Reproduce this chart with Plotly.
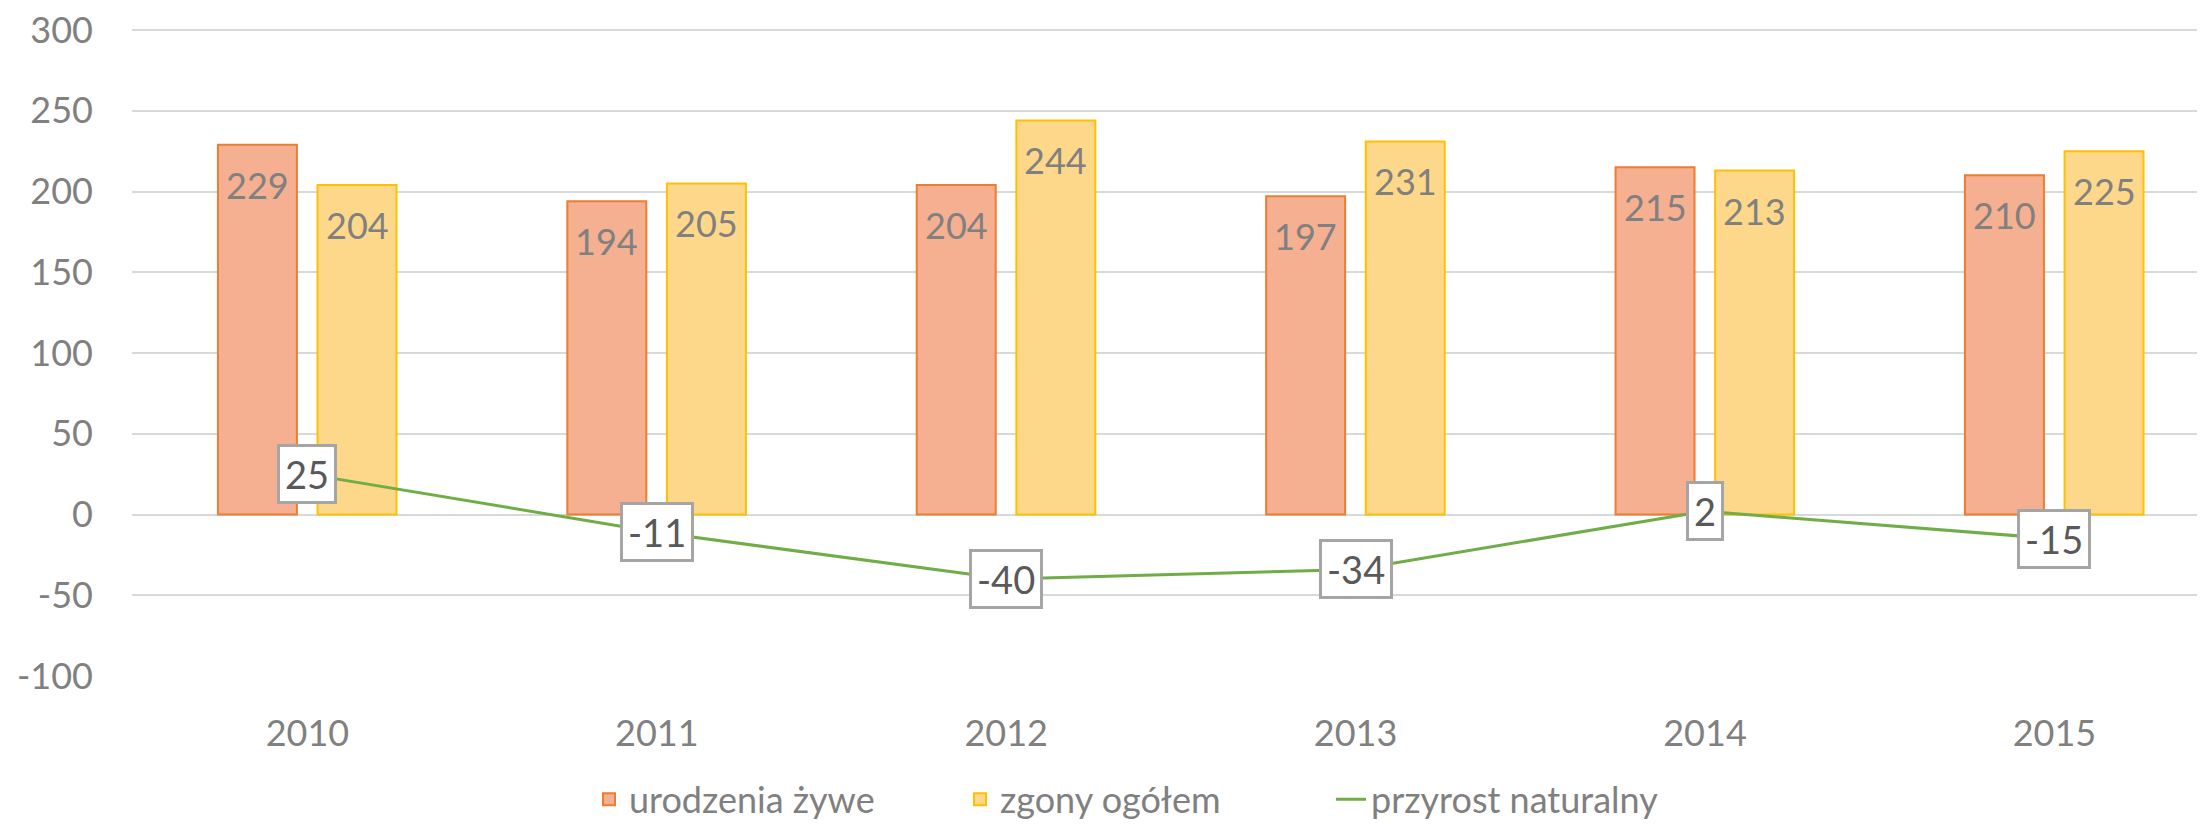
import plotly.graph_objects as go

years = ["2010", "2011", "2012", "2013", "2014", "2015"]
urodzenia = [229, 194, 204, 197, 215, 210]
zgony = [204, 205, 244, 231, 213, 225]
przyrost = [25, -11, -40, -34, 2, -15]
y_ticks = [-100, -50, 0, 50, 100, 150, 200, 250, 300]
y_ticktext = ["-100", "-50", "0", "50", "100", "150", "200", "250", "300"]

FONT = "Lato"
x = list(range(len(years)))
BW = 0.226
OFF_A = -0.256
OFF_B = 0.029

fig = go.Figure()
fig.add_trace(go.Bar(
    x=x, y=urodzenia, name="urodzenia żywe", width=BW, offset=OFF_A,
    marker=dict(color="#F5AF91", line=dict(color="#ED7D31", width=2)),
))
fig.add_trace(go.Bar(
    x=x, y=zgony, name="zgony ogółem", width=BW, offset=OFF_B,
    marker=dict(color="#FED88A", line=dict(color="#FFC000", width=2)),
))
fig.add_trace(go.Scatter(
    x=x, y=przyrost, name="przyrost naturalny", mode="lines",
    line=dict(color="#70AD47", width=3),
))

ann = []
for i, v in enumerate(urodzenia):
    ann.append(dict(x=i + OFF_A + BW / 2, y=v, xref="x", yref="y", text=str(v),
                    showarrow=False, yanchor="middle", yshift=-40,
                    font=dict(family=FONT, size=36, color="#808080")))
for i, v in enumerate(zgony):
    ann.append(dict(x=i + OFF_B + BW / 2, y=v, xref="x", yref="y", text=str(v),
                    showarrow=False, yanchor="middle", yshift=-40,
                    font=dict(family=FONT, size=36, color="#808080")))
for i, v in enumerate(przyrost):
    ann.append(dict(x=i, y=v, xref="x", yref="y", text=str(v),
                    showarrow=False, xanchor="center", yanchor="middle",
                    height=44, valign="middle",
                    bgcolor="white", bordercolor="#A5A5A5", borderwidth=3, borderpad=5,
                    font=dict(family=FONT, size=38, color="#595959")))

fig.update_layout(
    width=2197, height=818,
    margin=dict(l=124, r=0, t=19, b=150, autoexpand=False),
    paper_bgcolor="white", plot_bgcolor="white",
    barmode="overlay",
    font=dict(family=FONT, size=36, color="#808080"),
    showlegend=True,
    legend=dict(orientation="h", x=(581 - 124) / 2073, xanchor="left", y=-0.19, yanchor="middle",
                font=dict(family=FONT, size=36, color="#808080"),
                itemwidth=30, entrywidth=326, entrywidthmode="pixels", tracegroupgap=0),
    annotations=ann,
)
fig.update_xaxes(
    tickmode="array", tickvals=x, ticktext=years, automargin=False,
    range=[-0.502, 5.431], showgrid=False, zeroline=False, showline=False,
    ticks="", ticklabelstandoff=33,
    tickfont=dict(family=FONT, size=36, color="#808080"),
)
fig.update_yaxes(
    range=[-100, 301.86], tickmode="array", tickvals=y_ticks, ticktext=y_ticktext, automargin=False,
    showgrid=True, gridcolor="#D9D9D9", gridwidth=1.5, ticklabeloverflow="allow",
    zeroline=False, showline=False, ticks="", ticklabelstandoff=38,
    tickfont=dict(family=FONT, size=36, color="#808080"),
)

fig.write_html("out.html")
